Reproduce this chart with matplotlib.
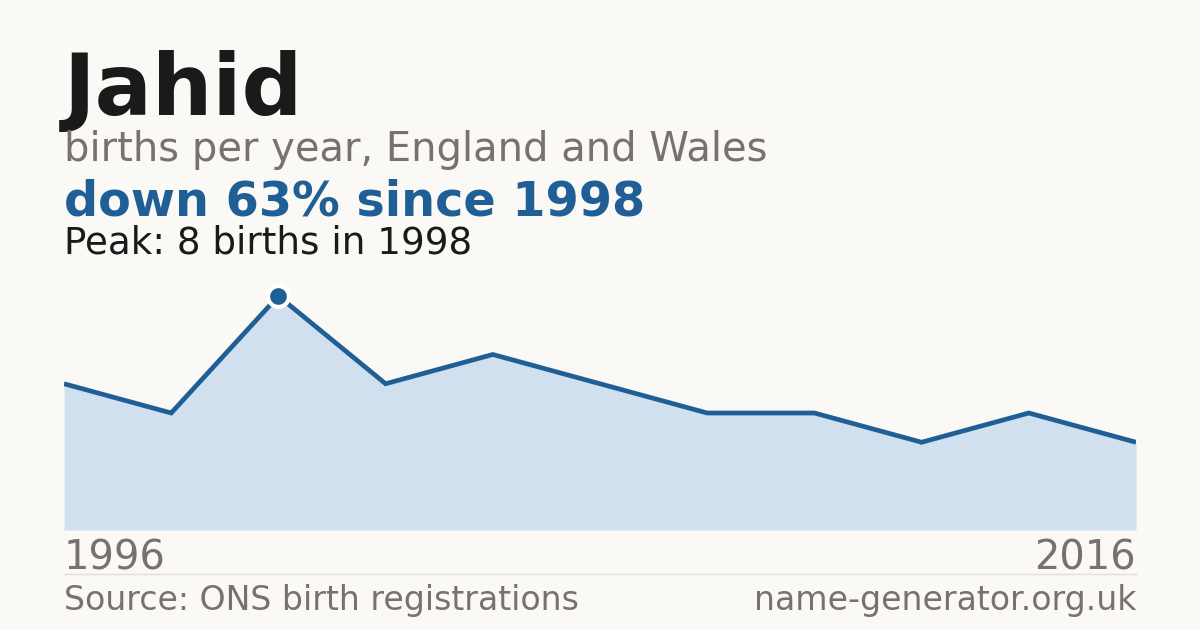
import matplotlib
matplotlib.use("Agg")
import matplotlib.pyplot as plt
import numpy as np

# Data
years = [1996, 1997, 1998, 1999, 2000, 2001, 2002, 2003, 2004, 2005, 2016]
births = [5, 4, 8, 5, 6, 5, 4, 4, 3, 4, 3]
name = "Jahid"
subtitle = "births per year, England and Wales"
headline = "down 63% since 1998"
peak_text = "Peak: 8 births in 1998"
start_label = "1996"
end_label = "2016"
source = "Source: ONS birth registrations"
site = "name-generator.org.uk"

BG = "#faf9f5"
BLUE = "#1f5f96"
FILL = "#d0e0ef"
GRAY = "#77726b"
DARK = "#1a1a1a"

W, H = 1200, 630
fig = plt.figure(figsize=(12, 6.3), dpi=100, facecolor=BG)
plt.rcParams['font.family'] = ['DejaVu Sans']

def px(x, y):
    return x / W, 1 - y / H

def fs(p):
    return p * 72 / 100

# Axes: x 64..1136, y value 8 at 296, 0 at 530
ax_left, ax_right = 64, 1136
ax_top, ax_bottom = 296, 530
ax = fig.add_axes([ax_left / W, 1 - ax_bottom / H, (ax_right - ax_left) / W, (ax_bottom - ax_top) / H])
ax.set_facecolor(BG)
ax.patch.set_alpha(0)
xs = np.arange(len(births))
ax.fill_between(xs, births, 0, color=FILL, linewidth=0)
ax.plot(xs, births, color=BLUE, linewidth=3.4, solid_joinstyle='miter', solid_capstyle='butt')
pk = int(np.argmax(births))
ax.plot([xs[pk]], [births[pk]], marker='o', markersize=15, markerfacecolor=BLUE,
        markeredgecolor='white', markeredgewidth=3, clip_on=False, zorder=5)
ax.set_xlim(0, len(births) - 1)
ax.set_ylim(0, 8)
ax.axis('off')

# Texts
fig.text(*px(64, 115), name, fontsize=fs(85), fontweight='bold', color=DARK, va='baseline', ha='left')
fig.text(*px(64, 161), subtitle, fontsize=fs(40), color=GRAY, va='baseline', ha='left')
fig.text(*px(64, 215), headline, fontsize=fs(47.8), fontweight='bold', color=BLUE, va='baseline', ha='left')
fig.text(*px(64, 254), peak_text, fontsize=fs(37.2), color=DARK, va='baseline', ha='left')
fig.text(*px(64, 569), start_label, fontsize=fs(40), color=GRAY, va='baseline', ha='left')
fig.text(*px(1136, 569), end_label, fontsize=fs(40), color=GRAY, va='baseline', ha='right')
fig.add_artist(plt.Line2D([64 / W, 1136 / W], [1 - 574 / H, 1 - 574 / H], color="#e2dfd8", linewidth=1))
fig.text(*px(64, 610), source, fontsize=fs(33.2), color=GRAY, va='baseline', ha='left')
fig.text(*px(1136, 610), site, fontsize=fs(33.2), color=GRAY, va='baseline', ha='right')

fig.savefig("out.png", dpi=100, facecolor=BG)
